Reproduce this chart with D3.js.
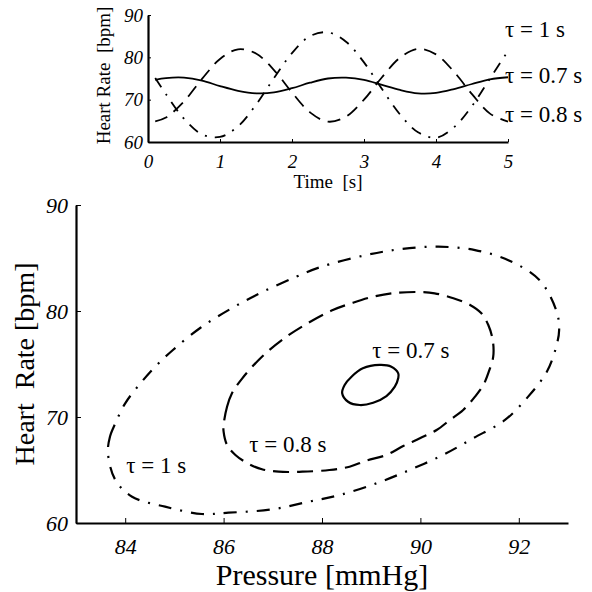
<!DOCTYPE html>
<html>
<head>
<meta charset="utf-8">
<script src="https://d3js.org/d3.v7.min.js"></script>
<style>
    body { margin: 0; background: #fff; }
    svg text { font-family: "Liberation Serif", "Times New Roman", serif; fill: #000; }
    .axis path, .axis line { stroke: #000; }
    .curve { fill: none; stroke: #000; stroke-width: 2; }
    .lbl { white-space: pre; }
</style>
</head>
<body>
<div id="chart"></div>
<script>
// time series (top panel)
var time = [0.1, 0.25, 0.5, 0.75, 1, 1.25, 1.5, 1.75, 2, 2.25, 2.5, 2.75, 3, 3.25, 3.5, 3.75, 4, 4.25, 4.5, 4.75, 5];
var hrTau07 = [74.7, 75.1, 75.2, 74.5, 73.2, 72.1, 71.5, 71.7, 72.7, 74.0, 75.0, 75.2, 74.7, 73.5, 72.3, 71.5, 71.6, 72.5, 73.7, 74.8, 75.3];
var hrTau08 = [64.9, 65.8, 69.6, 74.9, 79.6, 81.9, 80.9, 77.0, 71.7, 67.0, 64.8, 66.0, 70.0, 75.3, 79.9, 82.0, 80.7, 76.6, 71.3, 66.7, 64.8];
var hrTau10 = [75.1, 71.3, 65.5, 61.8, 61.2, 63.7, 68.8, 75.1, 81.0, 85.0, 85.9, 83.7, 78.8, 72.5, 66.5, 62.3, 61.0, 63.5, 68.5, 75.0, 81.5];

// pressure / heart-rate loops (bottom panel)
var loop07P  = [88.41, 88.46, 88.60, 88.83, 89.17, 89.41, 89.55, 89.55, 89.48, 89.31, 89.04, 88.77, 88.53];
var loop07HR = [72.24, 73.02, 73.80, 74.59, 74.91, 74.75, 74.12, 73.68, 72.86, 71.98, 71.35, 71.13, 71.44];

var loop08P  = [86.00, 86.07, 86.17, 86.38, 86.78, 87.26, 87.73, 88.22, 88.63, 89.04, 89.41, 89.92, 90.29, 90.67, 91.01, 91.24, 91.38, 91.47, 91.48, 91.39, 91.28, 91.11, 90.87, 90.60, 90.33, 89.99, 89.65, 89.31, 88.90, 88.56, 88.15, 87.60, 87.12, 86.78, 86.51, 86.24, 86.07, 86.00];
var loop08HR = [69.25, 70.97, 72.24, 73.65, 75.69, 77.52, 78.90, 80.09, 80.78, 81.35, 81.67, 81.79, 81.67, 81.20, 80.57, 79.78, 78.68, 77.26, 75.69, 74.27, 73.02, 71.92, 70.66, 69.72, 68.77, 67.99, 67.26, 66.42, 65.88, 65.31, 65.00, 64.84, 64.84, 65.07, 65.57, 66.42, 67.36, 68.61];

var loop10P  = [83.65, 83.69, 83.80, 84.00, 84.31, 84.61, 84.97, 85.53, 86.16, 86.80, 87.48, 87.95, 88.90, 89.62, 90.36, 91.11, 91.81, 92.43, 92.77, 92.82, 92.76, 92.57, 92.19, 91.72, 91.07, 90.46, 89.78, 89.11, 88.36, 87.73, 86.99, 86.10, 85.56, 84.81, 84.14, 83.80];
var loop10HR = [66.58, 68.14, 69.41, 71.29, 73.18, 74.75, 76.32, 78.42, 80.25, 81.82, 83.24, 84.12, 85.28, 85.85, 86.07, 85.75, 84.75, 82.86, 79.93, 78.21, 76.63, 74.27, 71.92, 69.72, 67.99, 66.42, 65.00, 63.75, 62.64, 62.01, 61.29, 60.97, 60.85, 61.54, 62.48, 64.06];

var labels = ["\u03c4 = 0.7 s", "\u03c4 = 0.8 s", "\u03c4 = 1 s"];
var topXTicks = [0, 1, 2, 3, 4, 5];
var topYTicks = [60, 70, 80, 90];
var botXTicks = [84, 86, 88, 90, 92];
var botYTicks = [60, 70, 80, 90];

var dashes = ["none", "16,8", "13,9,2,9"];
var topDashes = ["none", "13,8", "11,8,2,8"];

var serif = '"Liberation Serif", "Times New Roman", serif';
var width = 592, height = 592;

var svg = d3.select("#chart").append("svg")
    .attr("width", width)
    .attr("height", height);

// d3 axes put font-family="sans-serif" on their group, so restyle the tick text inline
function styleTicks(g, size) {
    g.attr("font-family", null);
    g.select(".domain").attr("stroke-width", 2.2);
    g.selectAll(".tick text")
        .style("font-family", serif)
        .style("font-style", "italic")
        .style("font-size", size + "px");
}

/* ---------- top panel ---------- */
var xT = d3.scaleLinear().domain([0, 5]).range([148, 508]);
var yT = d3.scaleLinear().domain([60, 90]).range([142, 15]);

var topG = svg.append("g");

var tLine = d3.line()
    .x(d => xT(d[0]))
    .y(d => yT(d[1]))
    .curve(d3.curveCatmullRom);

[hrTau07, hrTau08, hrTau10].forEach(function(s, i) {
    topG.append("path")
        .attr("class", "curve")
        .attr("d", tLine(time.map((t, k) => [t, s[k]])))
        .style("stroke-width", 1.8)
        .style("stroke-dasharray", topDashes[i]);
});

topG.append("g")
    .attr("class", "axis")
    .attr("transform", "translate(0," + yT(60) + ")")
    .call(d3.axisBottom(xT).tickValues(topXTicks).tickFormat(d3.format("d"))
        .tickSizeInner(-3).tickSizeOuter(0).tickPadding(13))
    .call(styleTicks, 19);

topG.append("g")
    .attr("class", "axis")
    .attr("transform", "translate(" + xT(0) + ",0)")
    .call(d3.axisLeft(yT).tickValues(topYTicks)
        .tickSizeInner(-3).tickSizeOuter(0).tickPadding(5))
    .call(styleTicks, 19);

topG.append("text")
    .attr("class", "lbl")
    .attr("x", (xT(0) + xT(5)) / 2)
    .attr("y", 188)
    .attr("text-anchor", "middle")
    .style("font-size", "19px")
    .text("Time  [s]");

topG.append("text")
    .attr("class", "lbl")
    .attr("transform", "translate(110," + (yT(75) - 3) + ") rotate(-90)")
    .attr("text-anchor", "middle")
    .style("font-size", "19px")
    .text("Heart Rate  [bpm]");

var topLabelHR = [73.9, 64.7, 84.8];
labels.forEach(function(l, i) {
    topG.append("text")
        .attr("class", "lbl")
        .attr("x", xT(4.96))
        .attr("y", yT(topLabelHR[i]))
        .style("font-size", "23px")
        .text(l);
});

/* ---------- bottom panel ---------- */
var xB = d3.scaleLinear().domain([83, 93]).range([76, 568]);
var yB = d3.scaleLinear().domain([60, 90]).range([523, 205]);

var botG = svg.append("g");

var loopLine = d3.line()
    .x(d => xB(d[0]))
    .y(d => yB(d[1]))
    .curve(d3.curveCatmullRomClosed);

[[loop07P, loop07HR], [loop08P, loop08HR], [loop10P, loop10HR]].forEach(function(s, i) {
    botG.append("path")
        .attr("class", "curve")
        .attr("d", loopLine(s[0].map((p, k) => [p, s[1][k]])))
        .style("stroke-width", 2.2)
        .style("stroke-dasharray", dashes[i]);
});

botG.append("g")
    .attr("class", "axis")
    .attr("transform", "translate(0," + yB(60) + ")")
    .call(d3.axisBottom(xB).tickValues(botXTicks)
        .tickSizeInner(-5).tickSizeOuter(0).tickPadding(15))
    .call(styleTicks, 22);

botG.append("g")
    .attr("class", "axis")
    .attr("transform", "translate(" + xB(83) + ",0)")
    .call(d3.axisLeft(yB).tickValues(botYTicks)
        .tickSizeInner(-5).tickSizeOuter(0).tickPadding(8))
    .call(styleTicks, 22);

botG.append("text")
    .attr("class", "lbl")
    .attr("x", (xB(83) + xB(93)) / 2)
    .attr("y", 585)
    .attr("text-anchor", "middle")
    .style("font-size", "30px")
    .text("Pressure [mmHg]");

botG.append("text")
    .attr("class", "lbl")
    .attr("transform", "translate(34," + yB(75) + ") rotate(-90)")
    .attr("text-anchor", "middle")
    .style("font-size", "28px")
    .text("Heart  Rate [bpm]");

var botLabelPos = [[89.02, 75.57], [86.52, 66.7], [84.02, 64.7]];
labels.forEach(function(l, i) {
    botG.append("text")
        .attr("class", "lbl")
        .attr("x", xB(botLabelPos[i][0]))
        .attr("y", yB(botLabelPos[i][1]))
        .style("font-size", "23px")
        .text(l);
});
</script>
</body>
</html>
